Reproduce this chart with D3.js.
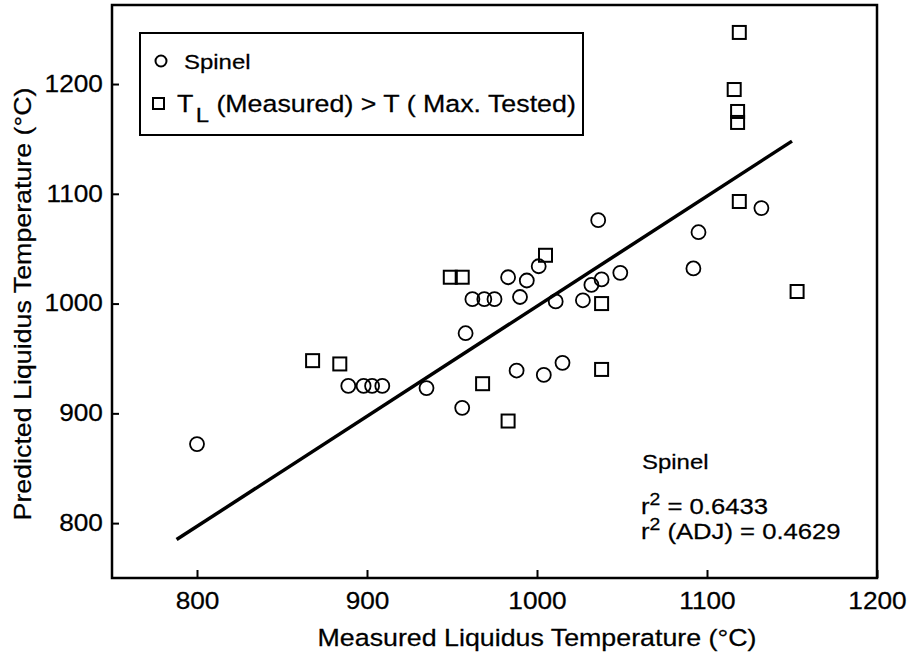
<!DOCTYPE html>
<html>
<head>
<meta charset="utf-8">
<script src="https://cdn.jsdelivr.net/npm/d3@7"></script>
<style>
  body { margin: 0; background: #fff; }
  text { font-family: "Liberation Sans", Arial, sans-serif; fill: #000; stroke: #000; stroke-width: 0.25px; }
</style>
</head>
<body>
<svg id="chart" width="908" height="657"></svg>
<script>
// spinel points (circles)
const spinelX = [800, 889, 898, 903, 909, 935, 956, 958, 962, 969, 975, 983, 988, 990, 994,
  1001, 1004, 1011, 1015, 1027, 1032, 1036, 1038, 1049, 1092, 1095, 1132]
const spinelY = [872, 925, 925, 925, 925, 923, 905, 973, 1004, 1004, 1004, 1024, 939, 1006, 1021,
  1034, 935, 1002, 946, 1003, 1017, 1076, 1022, 1028, 1032, 1065, 1087]

// T_L (measured) > T (max. tested) points (squares)
const maxTestedX = [868, 884, 949, 956, 968, 983, 1005, 1038, 1038, 1116, 1118, 1118, 1119, 1119, 1153]
const maxTestedY = [948, 945, 1024, 1024, 927, 893, 1044, 1000, 940, 1195, 1175, 1165, 1247, 1093, 1011]

// fitted line end points
const fitX = [788, 1150]
const fitY = [785, 1148]

const xTicks = [800, 900, 1000, 1100, 1200]
const yTicks = [800, 900, 1000, 1100, 1200]

const stretch = 'scale(1.14,1)'

const svg = d3.select('#chart')

const x = d3.scaleLinear().domain([750, 1200]).range([112, 877])
const y = d3.scaleLinear().domain([750, 1272]).range([578, 5])

/**
 * Adds a horizontally stretched text at a position.
 */
function addText (parent, px, py, anchor, size) {
  return parent.append('text')
    .attr('transform', 'translate(' + px + ',' + py + ') ' + stretch)
    .attr('text-anchor', anchor)
    .attr('font-size', size)
}

// axes with inward ticks
const xAxis = svg.append('g')
  .attr('class', 'x axis')
  .attr('transform', 'translate(0,' + y(750) + ')')
  .call(d3.axisBottom(x).tickValues(xTicks).tickFormat(d3.format('d')).tickSize(-8).tickPadding(15))
const yAxis = svg.append('g')
  .attr('class', 'y axis')
  .attr('transform', 'translate(' + x(750) + ',0)')
  .call(d3.axisLeft(y).tickValues(yTicks).tickFormat(d3.format('d')).tickSize(-7).tickPadding(8))

svg.selectAll('.axis .domain').remove()
svg.selectAll('.axis line').attr('stroke', '#000').attr('stroke-width', 2)
svg.selectAll('.axis text')
  .attr('font-size', 23)
  .attr('font-family', '"Liberation Sans", Arial, sans-serif')
  .attr('transform', stretch)
xAxis.attr('font-size', null).attr('font-family', null)
yAxis.attr('font-size', null).attr('font-family', null)

// plot frame
svg.append('rect')
  .attr('x', x(750))
  .attr('y', y(1272))
  .attr('width', x(1200) - x(750))
  .attr('height', y(750) - y(1272))
  .attr('fill', 'none')
  .attr('stroke', '#000')
  .attr('stroke-width', 2.5)

// fitted line
svg.append('line')
  .attr('x1', x(fitX[0])).attr('y1', y(fitY[0]))
  .attr('x2', x(fitX[1])).attr('y2', y(fitY[1]))
  .attr('stroke', '#000')
  .attr('stroke-width', 3.5)

// markers
svg.append('g').selectAll('circle')
  .data(d3.range(spinelX.length))
  .join('circle')
  .attr('cx', i => x(spinelX[i]))
  .attr('cy', i => y(spinelY[i]))
  .attr('r', 7)
  .attr('fill', 'none')
  .attr('stroke', '#000')
  .attr('stroke-width', 1.8)

const sq = 13
svg.append('g').selectAll('rect')
  .data(d3.range(maxTestedX.length))
  .join('rect')
  .attr('x', i => x(maxTestedX[i]) - sq / 2)
  .attr('y', i => y(maxTestedY[i]) - sq / 2)
  .attr('width', sq)
  .attr('height', sq)
  .attr('fill', 'none')
  .attr('stroke', '#000')
  .attr('stroke-width', 2)

// legend
const legend = svg.append('g')
legend.append('rect')
  .attr('x', 140).attr('y', 33).attr('width', 443).attr('height', 102)
  .attr('fill', '#fff').attr('stroke', '#000').attr('stroke-width', 2)
legend.append('circle')
  .attr('cx', 161).attr('cy', 61).attr('r', 5.5)
  .attr('fill', 'none').attr('stroke', '#000').attr('stroke-width', 2)
addText(legend, 184, 69, 'start', 21).text('Spinel')
legend.append('rect')
  .attr('x', 153).attr('y', 98).attr('width', 11).attr('height', 11)
  .attr('fill', 'none').attr('stroke', '#000').attr('stroke-width', 2)
const row2 = addText(legend, 177, 112, 'start', 23.5)
row2.append('tspan').text('T')
row2.append('tspan').attr('font-size', 21).attr('dy', 10).attr('dx', 2).text('L')
row2.append('tspan').attr('dy', -10).text(' (Measured) > T ( Max. Tested)')

// statistics note
addText(svg, 642, 469, 'start', 21).text('Spinel')
const r1 = addText(svg, 641, 514, 'start', 22.5)
r1.append('tspan').text('r')
r1.append('tspan').attr('font-size', 17).attr('dy', -9).text('2')
r1.append('tspan').attr('dy', 9).text(' = 0.6433')
const r2 = addText(svg, 641, 539, 'start', 22.5)
r2.append('tspan').text('r')
r2.append('tspan').attr('font-size', 17).attr('dy', -9).text('2')
r2.append('tspan').attr('dy', 9).text(' (ADJ) = 0.4629')

// axis titles
addText(svg, 537, 646, 'middle', 23.5).text('Measured Liquidus Temperature (°C)')
svg.append('text')
  .attr('transform', 'translate(31,304) rotate(-90) ' + stretch)
  .attr('text-anchor', 'middle')
  .attr('font-size', 23.5)
  .text('Predicted Liquidus Temperature (°C)')
</script>
</body>
</html>
